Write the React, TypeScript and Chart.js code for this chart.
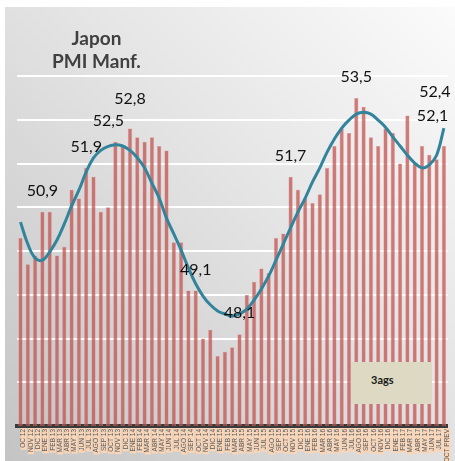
import React, { useEffect, useRef } from "react";
import { Chart, registerables } from "chart.js";

Chart.register(...registerables);

const categories = [
  "OC 12", "NOV 12", "DIC 12",
  "ENE 13", "FEB 13", "MAR 13", "ABR 13", "MAY 13", "JUN 13", "JUL 13", "AGO 13", "SEP 13", "OCT 13", "NOV 13", "DIC 13",
  "ENE 14", "FEB 14", "MAR 14", "ABR 14", "MAY 14", "JUN 14", "JUL 14", "AGO 14", "SEP 14", "OCT 14", "NOV 14", "DIC 14",
  "ENE 15", "FEB 15", "MAR 15", "ABR 15", "MAY 15", "JUN 15", "JUL 15", "AGO 15", "SEP 15", "OCT 15", "NOV 15", "DIC 15",
  "ENE 16", "FEB 16", "MAR 16", "ABR 16", "MAY 16", "JUN 16", "JUL 16", "AGO 16", "SEP 16", "OCT 16", "NOV 16", "DIC 16",
  "ENE 17", "FEB 17", "MAR 17", "ABR 17", "MAY 17", "JUN 17", "JUL 17", "OCT PREV",
];

const pmiValues = [
  50.3, 49.7, 49.9, 50.9, 50.9, 49.9, 50.1, 51.4, 51.2, 51.9,
  51.7, 50.9, 51.0, 52.5, 52.4, 52.8, 52.6, 52.5, 52.6, 52.4,
  52.3, 50.2, 50.2, 49.1, 49.1, 48.0, 48.2, 47.6, 47.7, 47.8,
  48.1, 49.0, 49.3, 49.6, 49.5, 50.3, 50.4, 51.7, 51.4, 51.2,
  51.1, 51.3, 51.9, 52.4, 52.8, 52.7, 53.5, 53.3, 52.6, 52.4,
  52.8, 52.7, 52.0, 53.1, 52.0, 52.4, 52.2, 52.1, 52.4,
];

const trendValues = [
  50.66, 50.16, 49.84, 49.79, 49.98, 50.25, 50.62, 51.03, 51.39, 51.81,
  52.13, 52.30, 52.39, 52.43, 52.40, 52.30, 52.13, 51.90, 51.55, 51.21,
  50.75, 50.39, 50.02, 49.61, 49.25, 48.97, 48.77, 48.63, 48.56, 48.51,
  48.56, 48.67, 48.88, 49.13, 49.43, 49.79, 50.16, 50.53, 50.89, 51.21,
  51.58, 51.90, 52.26, 52.56, 52.81, 52.99, 53.13, 53.17, 53.13, 52.99,
  52.83, 52.61, 52.40, 52.19, 52.01, 51.90, 51.97, 52.19, 52.81,
];

const labelledIndices = [3, 9, 13, 15, 24, 30, 37, 46, 57, 58];

const yMin = 46;
const yMax = 55;

const labelNudges: Record<number, [number, number]> = {
  13: [-7, 0],
  15: [0, -9],
  57: [-4, -22],
  58: [-9, -33],
};

const fmt = (v: number) => v.toFixed(1).replace(".", ",");

export default function App() {
  const canvasRef = useRef<HTMLCanvasElement>(null);

  useEffect(() => {
    const canvas = canvasRef.current;
    if (!canvas) return;

    const valueLabels = {
      id: "valueLabels",
      afterDatasetsDraw(chart: any) {
        const meta = chart.getDatasetMeta(1);
        const ctx = chart.ctx;
        ctx.save();
        ctx.font = "16px Lato";
        ctx.fillStyle = "#111111";
        ctx.textAlign = "center";
        ctx.textBaseline = "middle";
        labelledIndices.forEach((i) => {
          const el = meta.data[i];
          const [dx, dy] = labelNudges[i] || [0, 0];
          ctx.fillText(fmt(pmiValues[i]), el.x + dx, el.y - 21 + dy);
        });
        ctx.restore();
      },
    };

    const chart = new Chart(canvas, {
      type: "bar",
      data: {
        labels: categories,
        datasets: [
          {
            type: "line",
            label: "Tendencia",
            data: trendValues,
            borderColor: "#31849b",
            borderWidth: 3,
            pointRadius: 0,
            tension: 0.4,
            fill: false,
            order: 0,
          } as any,
          {
            type: "bar",
            label: "PMI",
            data: pmiValues,
            backgroundColor: "rgba(192,80,77,0.74)",
            borderColor: "rgba(224,150,148,0.8)",
            borderWidth: 0.6,
            categoryPercentage: 1,
            barPercentage: 0.59,
            order: 1,
          },
        ],
      },
      options: {
        animation: false,
        responsive: false,
        maintainAspectRatio: false,
        layout: { padding: { left: 16.85, right: 7.45, top: 32.25, bottom: 0 } },
        plugins: {
          legend: { display: false },
          tooltip: { enabled: false },
          title: { display: false },
        },
        scales: {
          x: {
            offset: true,
            grid: { display: false, drawTicks: false },
            border: { display: true, color: "#3a3a3a", width: 4 },
            ticks: {
              autoSkip: false,
              maxRotation: 90,
              minRotation: 90,
              padding: 3,
              color: "#595959",
              font: { family: "Liberation Sans", size: 6.5, lineHeight: 0.95 },
              showLabelBackdrop: true,
              backdropColor: "#fcd5b4",
              backdropPadding: { top: 0, bottom: 0, left: 2, right: 1 },
            } as any,
            afterFit: (scale: any) => {
              scale.height = 35;
            },
          },
          y: {
            min: yMin,
            max: yMax,
            ticks: { display: false, stepSize: 1 },
            border: { display: false },
            grid: {
              drawTicks: false,
              lineWidth: 2,
              color: (c: any) =>
                c.tick && (c.tick.value === yMax || c.tick.value === yMin)
                  ? "rgba(0,0,0,0)"
                  : "#ffffff",
            },
          },
        },
      },
      plugins: [valueLabels],
    });

    return () => chart.destroy();
  }, []);

  return (
    <div
      style={{
        position: "fixed",
        left: 0,
        top: 0,
        width: 455,
        height: 461,
        background: "#ffffff",
        overflow: "hidden",
      }}
    >
      <div
        style={{
          position: "absolute",
          left: 5,
          top: 7,
          width: 450,
          height: 454,
          background:
            "linear-gradient(to bottom left, #fbfbfb 0%, #e6e6e6 40%, #d2d2d2 75%, #c4c4c4 100%)",
        }}
      />
      <canvas
        ref={canvasRef}
        width={455}
        height={461}
        style={{ position: "absolute", left: 0, top: 0, width: 455, height: 461 }}
      />
      <div
        style={{
          position: "absolute",
          left: 0,
          top: 26,
          width: 193,
          textAlign: "center",
          fontFamily: "Lato, 'Liberation Sans', sans-serif",
          fontWeight: 700,
          fontSize: 19,
          lineHeight: "23px",
          color: "#404040",
        }}
      >
        Japon
        <br />
        PMI Manf.
      </div>
      <div
        style={{
          position: "absolute",
          left: 351,
          top: 362,
          width: 81,
          height: 42,
          background: "#ddd9c3",
        }}
      >
        <span
          style={{
            position: "absolute",
            left: 20,
            top: 12,
            fontFamily: "Lato, 'Liberation Sans', sans-serif",
            fontWeight: 700,
            fontSize: 11,
            lineHeight: "12px",
            color: "#1a1a1a",
          }}
        >
          3ags
        </span>
      </div>
    </div>
  );
}
